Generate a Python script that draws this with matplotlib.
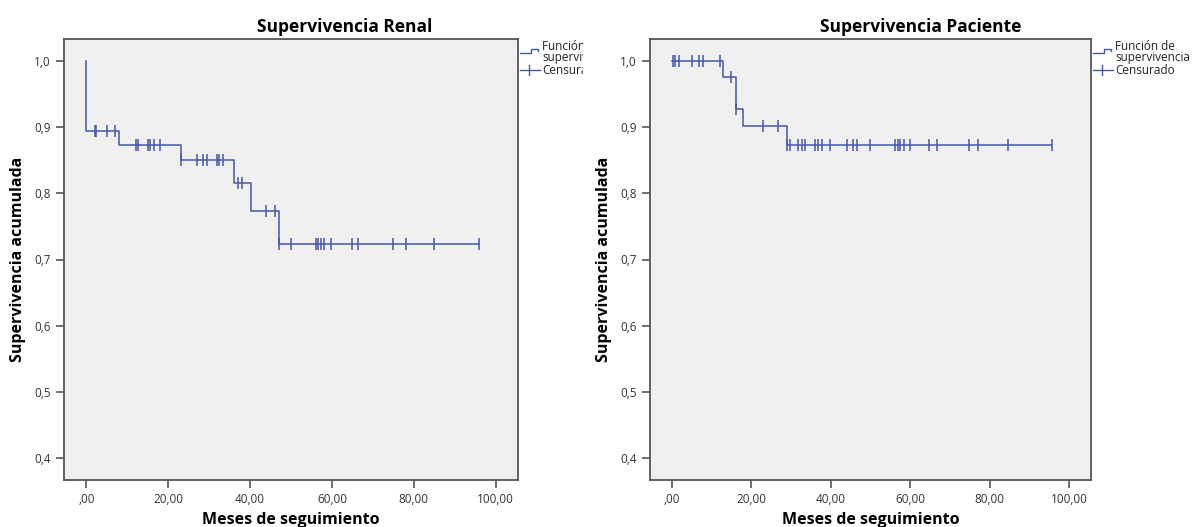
import numpy as np
from matplotlib import pyplot as plt
from matplotlib.lines import Line2D
from matplotlib.transforms import Bbox, TransformedBbox

# Kaplan-Meier estimates (months, cumulative survival)
renal_step_times = [0.0, 0.0, 8.0, 23.0, 36.0, 40.1, 47.0, 96.0]
renal_step_surv = [1.0, 0.894, 0.873, 0.850, 0.815, 0.773, 0.724, 0.724]
renal_censored = [2.0, 2.3, 4.9, 6.9, 12.1, 12.6, 15.1, 15.6, 16.5, 17.9, 23.0,
                  26.9, 28.4, 29.5, 31.8, 32.4, 33.3, 37.1, 37.9, 44.0, 46.0,
                  47.0, 50.1, 56.0, 56.6, 57.3, 58.0, 59.9, 65.0, 66.3, 75.0,
                  78.1, 85.0, 96.0]

pac_step_times = [0.0, 13.0, 16.2, 17.9, 28.9, 95.8]
pac_step_surv = [1.0, 0.976, 0.927, 0.902, 0.873, 0.873]
pac_censored = [0.3, 0.8, 1.9, 5.0, 6.9, 7.8, 12.0, 14.9, 16.2, 23.0, 26.8,
                28.9, 29.8, 31.8, 32.7, 33.5, 36.0, 36.9, 37.7, 39.8, 44.0,
                45.7, 46.5, 49.9, 56.2, 56.8, 57.4, 58.4, 59.9, 64.8, 66.7,
                74.9, 77.1, 84.7, 95.8]

x_ticks = [0, 20, 40, 60, 80, 100]
x_ticklabels = [',00', '20,00', '40,00', '60,00', '80,00', '100,00']
y_ticks = [0.4, 0.5, 0.6, 0.7, 0.8, 0.9, 1.0]
y_ticklabels = ['0,4', '0,5', '0,6', '0,7', '0,8', '0,9', '1,0']

LINE = '#4458a8'
FRAME = '#555555'
plt.rcParams['font.family'] = ['Open Sans', 'DejaVu Sans']

W, H = 1193, 527
fig = plt.figure(figsize=(W / 100, H / 100), dpi=100)


def px_axes(x0, x1, y0, y1):
    return fig.add_axes([x0 / W, 1 - y1 / H, (x1 - x0) / W, (y1 - y0) / H])


def km_panel(ax, times, surv, cens):
    ax.set_facecolor('#f0f0f0')
    ax.step(times, surv, where='post', color=LINE, lw=1.1)
    # censor marks sit on the level after any step at the same time
    idx = np.searchsorted(times, cens, side='right') - 1
    ax.plot(cens, np.array(surv)[idx], linestyle='none', marker='|',
            color=LINE, markersize=8, markeredgewidth=1.1)
    ax.set_xlim(-5.5, 105.5)
    ax.set_ylim(0.367, 1.033)
    ax.set_xticks(x_ticks)
    ax.set_xticklabels(x_ticklabels)
    ax.set_yticks(y_ticks)
    ax.set_yticklabels(y_ticklabels)
    ax.tick_params(direction='out', length=6, width=1.2, colors=FRAME,
                   labelsize=8.5, labelcolor='#333333')
    for s in ax.spines.values():
        s.set_color(FRAME)
        s.set_linewidth(1.3)
    ax.set_xlabel('Meses de seguimiento', fontsize=11.5, fontweight='bold',
                  labelpad=4)
    ax.set_ylabel('Supervivencia acumulada', fontsize=11.5, fontweight='bold',
                  labelpad=6)


def legend(x0, clip_x=None):
    # step icon for the survival function
    ys = [53, 53, 49, 49, 51]
    xs = [x0, x0 + 11, x0 + 11, x0 + 18, x0 + 18]
    fig.add_artist(Line2D([x / W for x in xs], [1 - y / H for y in ys],
                          color=LINE, lw=1))
    fig.add_artist(Line2D([x0 / W, (x0 + 20) / W], [1 - 70 / H] * 2,
                          color=LINE, lw=1))
    fig.add_artist(Line2D([(x0 + 9) / W] * 2, [1 - 65 / H, 1 - 75 / H],
                          color=LINE, lw=1))
    texts = []
    for label, y in [('Función de', 46), ('supervivencia', 57),
                     ('Censurado', 70)]:
        t = fig.text((x0 + 22) / W, 1 - y / H, label, fontsize=8.5,
                     va='center', ha='left', color='#222222',
                     linespacing=1.0)
        texts.append(t)
    if clip_x is not None:
        box = TransformedBbox(Bbox([[0, 0], [clip_x / W, 1]]), fig.transFigure)
        for t in texts:
            t.set_clip_box(box)
            t.set_clip_on(True)


ax1 = px_axes(64, 518, 39, 480)
km_panel(ax1, renal_step_times, renal_step_surv, renal_censored)
fig.text(345 / W, 1 - 27 / H, 'Supervivencia Renal', fontsize=12.5,
         fontweight='bold', ha='center', va='center')
legend(520, clip_x=583)

ax2 = px_axes(650, 1091, 39, 480)
km_panel(ax2, pac_step_times, pac_step_surv, pac_censored)
fig.text(921 / W, 1 - 27 / H, 'Supervivencia Paciente', fontsize=12.5,
         fontweight='bold', ha='center', va='center')
legend(1093)

fig.savefig('out.png', dpi=100)
